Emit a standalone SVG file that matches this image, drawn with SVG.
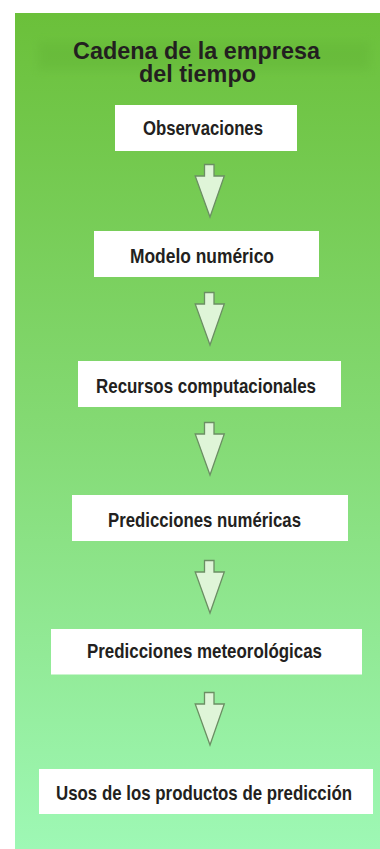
<svg xmlns="http://www.w3.org/2000/svg" width="380" height="849" viewBox="0 0 380 849">
<defs>
<linearGradient id="bg" x1="0" y1="0" x2="0" y2="1">
<stop offset="0" stop-color="#6bc03a"/>
<stop offset="0.5" stop-color="#84da74"/>
<stop offset="1" stop-color="#9ef8b5"/>
</linearGradient>
<filter id="blur" x="-0.2" y="-0.5" width="1.4" height="2"><feGaussianBlur stdDeviation="4"/></filter>
<symbol id="arrow" overflow="visible"><path d="M204.5,0.5 H214 V12 H224.3 L210,53 L195.2,12 H204.5 Z"/></symbol>
<style>
.box{fill:#fff}
.lbl{font-family:"Liberation Sans",Arial,sans-serif;font-weight:bold;font-size:20px;fill:#231f20}
.title{font-family:"Liberation Sans",Arial,sans-serif;font-weight:bold;font-size:23.4px;fill:#231f20;text-anchor:middle}
.arr{fill:#dff5d8;stroke:#6b8e63;stroke-width:1.3;stroke-linejoin:miter}
</style>
</defs>
<rect x="15" y="13" width="365" height="836" fill="url(#bg)"/>
<rect x="38" y="42" width="332" height="28" fill="#5fae30" opacity="0.3" filter="url(#blur)"/>
<g id="title">
<text class="title"><tspan x="196.5" y="59.3">Cadena de la empresa</tspan><tspan x="197.5" y="81.7">del tiempo</tspan></text>
</g>
<g id="connectors">
<use href="#arrow" class="arr" y="164"/>
<use href="#arrow" class="arr" y="292"/>
<use href="#arrow" class="arr" y="422"/>
<use href="#arrow" class="arr" y="560"/>
<use href="#arrow" class="arr" y="692"/>
</g>
<g id="n1"><rect class="box" x="115" y="105" width="182" height="46"/><text class="lbl" transform="translate(143,135) scale(0.845,1)" textLength="142" lengthAdjust="spacingAndGlyphs">Observaciones</text></g>
<g id="n2"><rect class="box" x="94" y="231" width="225" height="46"/><text class="lbl" transform="translate(130,263.3) scale(0.845,1)" textLength="170.4" lengthAdjust="spacingAndGlyphs">Modelo numérico</text></g>
<g id="n3"><rect class="box" x="78" y="361" width="263" height="46"/><text class="lbl" transform="translate(96,393) scale(0.845,1)" textLength="260.4" lengthAdjust="spacingAndGlyphs">Recursos computacionales</text></g>
<g id="n4"><rect class="box" x="72" y="495" width="276" height="46"/><text class="lbl" transform="translate(108,526.7) scale(0.845,1)" textLength="228.4" lengthAdjust="spacingAndGlyphs">Predicciones numéricas</text></g>
<g id="n5"><rect class="box" x="51" y="629" width="311" height="45.5"/><text class="lbl" transform="translate(87,658.3) scale(0.845,1)" textLength="278.1" lengthAdjust="spacingAndGlyphs">Predicciones meteorológicas</text></g>
<g id="n6"><rect class="box" x="39" y="769" width="334" height="45"/><text class="lbl" transform="translate(56,800) scale(0.845,1)" textLength="350.3" lengthAdjust="spacingAndGlyphs">Usos de los productos de predicción</text></g>
</svg>
